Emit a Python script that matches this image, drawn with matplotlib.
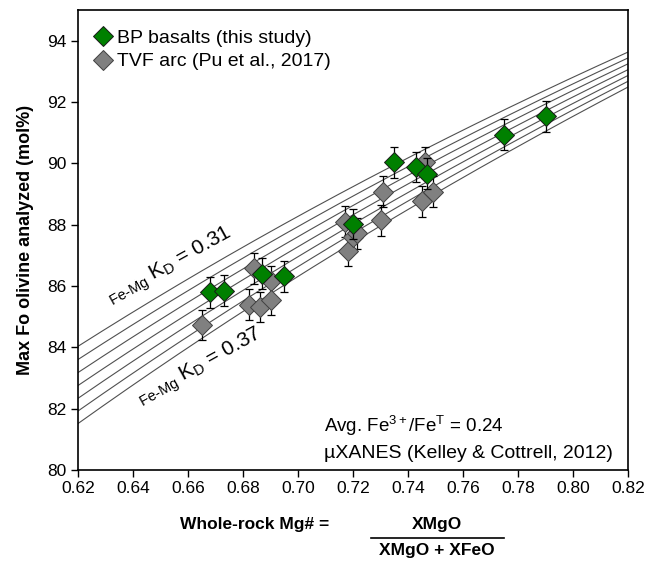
import numpy as np
import matplotlib
matplotlib.use("Agg")
import matplotlib.pyplot as plt
from matplotlib.lines import Line2D

plt.rcParams['font.family'] = ['Liberation Sans', 'DejaVu Sans']
plt.rcParams['mathtext.fontset'] = 'custom'
plt.rcParams['mathtext.rm'] = 'Liberation Sans'
plt.rcParams['mathtext.it'] = 'Liberation Sans'
plt.rcParams['mathtext.bf'] = 'Liberation Sans:bold'

# BP basalts (this study)
bp_mg = [0.668, 0.673, 0.687, 0.695, 0.720, 0.735, 0.743, 0.747, 0.775, 0.790]
bp_fo = [85.79, 85.85, 86.40, 86.31, 88.02, 90.03, 89.88, 89.66, 90.93, 91.53]
bp_err = [0.5] * len(bp_mg)

# TVF arc (Pu et al., 2017)
tvf_mg = [0.665, 0.682, 0.684, 0.686, 0.690, 0.690, 0.717, 0.718, 0.720, 0.7215,
          0.730, 0.731, 0.745, 0.746, 0.749]
tvf_fo = [84.73, 85.39, 86.58, 85.31, 86.15, 85.55, 88.10, 87.15, 87.61, 87.72,
          88.14, 89.08, 88.76, 90.03, 89.08]
tvf_err = [0.5] * len(tvf_mg)

kd_values = [0.31, 0.32, 0.33, 0.34, 0.35, 0.36, 0.37]

fig = plt.figure(figsize=(6.48, 5.62), dpi=100)
ax = fig.add_axes([0.1204, 0.1637, 0.8488, 0.8185])

# equilibrium lines
xx = np.linspace(0.62, 0.82, 200)
for kd in kd_values:
    fo = 100.0 / (1.0 + kd * (1.0 - xx) / xx)
    ax.plot(xx, fo, color='#505050', lw=0.8, zorder=1)

ax.errorbar(tvf_mg, tvf_fo, yerr=tvf_err, fmt='none', ecolor='black',
            elinewidth=0.9, capsize=3, capthick=0.9, zorder=2)
ax.plot(tvf_mg, tvf_fo, 'D', ms=10, color='#808080', mec='#404040', mew=0.7,
        zorder=3, label='TVF arc (Pu et al., 2017)')
ax.errorbar(bp_mg, bp_fo, yerr=bp_err, fmt='none', ecolor='black',
            elinewidth=0.9, capsize=3, capthick=0.9, zorder=4)
ax.plot(bp_mg, bp_fo, 'D', ms=10, color='#008000', mec='#1a1a1a', mew=0.7,
        zorder=5, label='BP basalts (this study)')

ax.set_xlim(0.62, 0.82)
ax.set_ylim(80, 95)
ax.set_xticks(np.arange(0.62, 0.8201, 0.02))
ax.set_xticklabels([f'{v:.2f}' for v in np.arange(0.62, 0.8201, 0.02)])
ax.set_yticks(np.arange(80, 95, 2))
ax.tick_params(direction='out', length=5, width=1, labelsize=12.5, pad=3)
for s in ax.spines.values():
    s.set_linewidth(1.2)

ax.set_ylabel('Max Fo olivine analyzed (mol%)', fontsize=13,
              fontweight='bold', labelpad=10)

handles, labels = ax.get_legend_handles_labels()
ax.legend(handles[::-1], labels[::-1], loc='upper left', frameon=False,
          fontsize=14, handletextpad=0.12, borderaxespad=0,
          bbox_to_anchor=(0.011, 0.975),
          labelspacing=0.3, handlelength=1.15)

ax.text(0.6535, 86.62, r'$_{\mathrm{Fe\text{-}Mg}}$ K$_{\mathrm{D}}$ = 0.31',
        fontsize=15, rotation=29, ha='center', va='center')
ax.text(0.6644, 83.33, r'$_{\mathrm{Fe\text{-}Mg}}$ K$_{\mathrm{D}}$ = 0.37',
        fontsize=15, rotation=29, ha='center', va='center')

ax.text(0.7095, 81.45, r'Avg. Fe$^{3+}$/Fe$^{\mathrm{T}}$ = 0.24', fontsize=13.5,
        ha='left', va='center')
ax.text(0.8145, 80.55, 'µXANES (Kelley & Cottrell, 2012)', fontsize=14,
        ha='right', va='center')

# x label with fraction
fig.text(255 / 648, 1 - 524 / 562, 'Whole-rock Mg# =', fontsize=12.5,
         fontweight='bold', ha='center', va='center')
fig.text(437 / 648, 1 - 524 / 562, 'XMgO', fontsize=12.5,
         fontweight='bold', ha='center', va='center')
fig.text(437 / 648, 1 - 551 / 562, 'XMgO + XFeO', fontsize=12.5,
         fontweight='bold', ha='center', va='center')
fig.add_artist(Line2D([371 / 648, 504 / 648], [1 - 538 / 562, 1 - 538 / 562],
                      color='black', lw=1.2, transform=fig.transFigure))

fig.savefig('out.png', dpi=100)
